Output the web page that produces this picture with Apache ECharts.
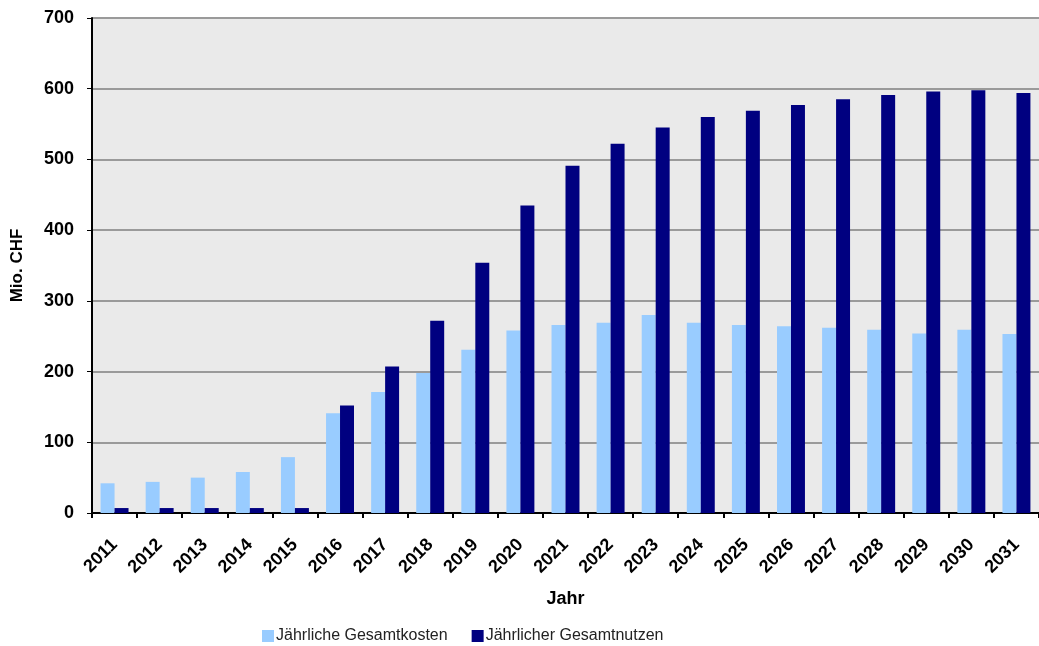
<!DOCTYPE html>
<html>
<head>
<meta charset="utf-8">
<script src="https://cdn.jsdelivr.net/npm/echarts@6/dist/echarts.min.js"></script>
<style>
  html, body { margin: 0; padding: 0; background: #fff; }
  #chart { width: 1039px; height: 646px; }
</style>
</head>
<body>
<div id="chart"></div>
<script>
// Jahre
const years = ['2011','2012','2013','2014','2015','2016','2017','2018','2019','2020','2021',
               '2022','2023','2024','2025','2026','2027','2028','2029','2030','2031'];
// Jährliche Gesamtkosten (Mio. CHF)
const kosten = [42, 44, 50, 58, 79, 141, 171, 198, 231, 258, 266,
                269, 280, 269, 266, 264, 262, 259, 254, 259, 253];
// Jährlicher Gesamtnutzen (Mio. CHF)
const nutzen = [7, 7, 7, 7, 7, 152, 207, 272, 354, 435, 491,
                522, 545, 560, 569, 577, 585, 591, 596, 598, 594];
// Achsenbeschriftungen
const yTicks = { min: 0, max: 700, interval: 100 };

const FONT = "'Liberation Sans Narrow', 'Arial Narrow', 'Liberation Sans', sans-serif";

const chart = echarts.init(document.getElementById('chart'), null, { renderer: 'canvas' });
chart.setOption({
  animation: false,
  textStyle: { fontFamily: FONT },
  grid: { left: 92, right: 0, top: 18, bottom: 133, show: true, backgroundColor: '#EAEAEA', borderWidth: 0 },
  legend: {
    left: 257, top: 623,
    itemWidth: 12, itemHeight: 12, itemGap: 24,
    icon: 'rect',
    textStyle: { fontFamily: FONT, fontSize: 16, color: '#222', padding: [0, 0, 0, -3] },
    data: ['Jährliche Gesamtkosten', 'Jährlicher Gesamtnutzen']
  },
  xAxis: {
    type: 'category',
    data: years,
    name: 'Jahr',
    nameLocation: 'middle',
    nameGap: 77,
    nameTextStyle: { fontFamily: FONT, fontSize: 18, fontWeight: 'bold', color: '#000' },
    axisLine: { lineStyle: { color: '#000', width: 2 } },
    axisTick: { show: true, length: 5, lineStyle: { color: '#000', width: 2 } },
    axisLabel: { rotate: 45, margin: 29, fontFamily: FONT, fontSize: 18, fontWeight: 'bold', color: '#000' }
  },
  yAxis: {
    type: 'value',
    min: yTicks.min, max: yTicks.max, interval: yTicks.interval,
    name: 'Mio. CHF',
    nameLocation: 'middle',
    nameGap: 66,
    nameTextStyle: { fontFamily: FONT, fontSize: 17, fontWeight: 'bold', color: '#000' },
    axisLine: { show: true, lineStyle: { color: '#000', width: 2 } },
    axisTick: { show: true, length: 5, lineStyle: { color: '#000', width: 1 } },
    axisLabel: { margin: 18, fontFamily: FONT, fontSize: 18, fontWeight: 'bold', color: '#000' },
    splitLine: { show: true, lineStyle: { color: '#9a9a9a', width: 2 } }
  },
  series: [
    {
      name: 'Jährliche Gesamtkosten',
      type: 'bar',
      data: kosten,
      barGap: '0%',
      barCategoryGap: '38%',
      itemStyle: { color: '#99CCFF' }
    },
    {
      name: 'Jährlicher Gesamtnutzen',
      type: 'bar',
      data: nutzen,
      barGap: '0%',
      barCategoryGap: '38%',
      itemStyle: { color: '#000080' }
    }
  ]
});
</script>
</body>
</html>
